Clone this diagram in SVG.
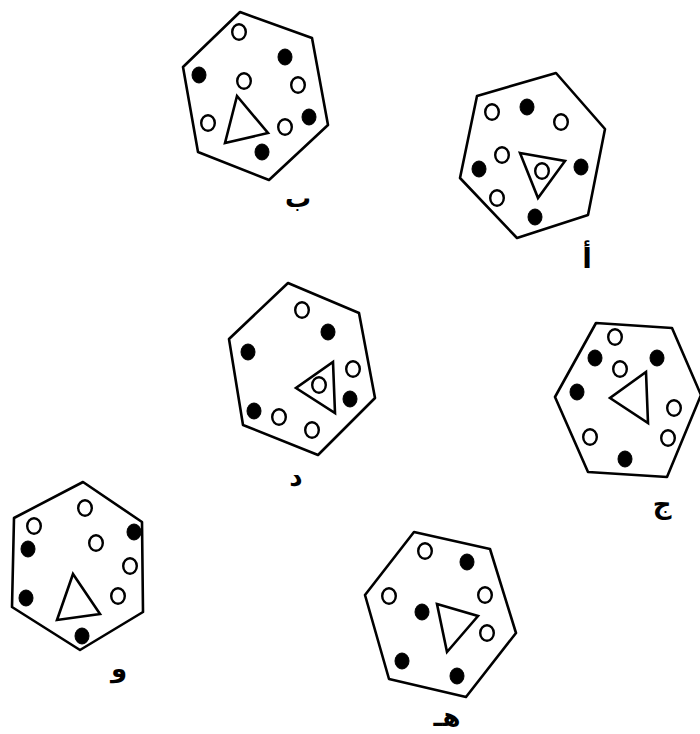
<svg xmlns="http://www.w3.org/2000/svg" width="700" height="734" viewBox="0 0 700 734">
<style>
.hex{fill:none;stroke:#000;stroke-width:2.6;stroke-linejoin:round}
.tri{fill:none;stroke:#000;stroke-width:2.6;stroke-linejoin:miter}
.o{fill:#fff;stroke:#000;stroke-width:2.4}
.f{fill:#000;stroke:#000;stroke-width:1}
.lbl{font-family:"DejaVu Sans",sans-serif;font-weight:bold;font-size:26px;text-anchor:middle;fill:#000}
</style>
<rect width="700" height="734" fill="#fff"/>
<g id="connectors"></g>
<g id="node-b">
<polygon class="hex" points="240,12 312,38 328,125 269,180 198,152 183,67"/>
<polygon class="tri" points="237,96 268,133 225,143"/>
<ellipse class="o" cx="239" cy="32" rx="6.8" ry="7.8"/>
<ellipse class="f" cx="285" cy="57" rx="7" ry="8"/>
<ellipse class="f" cx="199" cy="75" rx="7" ry="8"/>
<ellipse class="o" cx="244" cy="81" rx="6.8" ry="7.8"/>
<ellipse class="o" cx="298" cy="85" rx="6.8" ry="7.8"/>
<ellipse class="o" cx="208" cy="123" rx="6.8" ry="7.8"/>
<ellipse class="f" cx="309" cy="117" rx="7" ry="8"/>
<ellipse class="o" cx="285" cy="127" rx="6.8" ry="7.8"/>
<ellipse class="f" cx="262" cy="152" rx="7" ry="8"/>
<text class="lbl" x="298" y="207">ب</text>
</g>
<g id="node-a">
<polygon class="hex" points="477,96 556,73 605,129 588,215 517,238 460,178"/>
<polygon class="tri" points="520,153 565,161 538,198"/>
<ellipse class="o" cx="492" cy="112" rx="6.8" ry="7.8"/>
<ellipse class="f" cx="527" cy="107" rx="7" ry="8"/>
<ellipse class="o" cx="561" cy="122" rx="6.8" ry="7.8"/>
<ellipse class="o" cx="502" cy="155" rx="6.8" ry="7.8"/>
<ellipse class="f" cx="479" cy="169" rx="7" ry="8"/>
<ellipse class="f" cx="581" cy="167" rx="7" ry="8"/>
<ellipse class="o" cx="497" cy="198" rx="6.8" ry="7.8"/>
<ellipse class="f" cx="535" cy="217" rx="7" ry="8"/>
<ellipse class="o" cx="542" cy="171" rx="6.8" ry="7.8"/>
<text class="lbl" x="587" y="268" style="font-size:28px">أ</text>
</g>
<g id="node-d">
<polygon class="hex" points="288,283 359,313 375,398 318,455 243,425 229,339"/>
<polygon class="tri" points="333,362 335,413 296,388"/>
<ellipse class="o" cx="302" cy="310" rx="6.8" ry="7.8"/>
<ellipse class="f" cx="328" cy="332" rx="7" ry="8"/>
<ellipse class="f" cx="248" cy="352" rx="7" ry="8"/>
<ellipse class="o" cx="353" cy="369" rx="6.8" ry="7.8"/>
<ellipse class="o" cx="319" cy="385" rx="6.8" ry="7.8"/>
<ellipse class="f" cx="350" cy="399" rx="7" ry="8"/>
<ellipse class="f" cx="254" cy="411" rx="7" ry="8"/>
<ellipse class="o" cx="279" cy="417" rx="6.8" ry="7.8"/>
<ellipse class="o" cx="312" cy="430" rx="6.8" ry="7.8"/>
<text class="lbl" x="296" y="486">د</text>
</g>
<g id="node-j">
<polygon class="hex" points="596,323 672,328 701,395 667,477 588,472 555,397"/>
<polygon class="tri" points="646,372 648,423 610,398"/>
<ellipse class="o" cx="615" cy="337" rx="6.8" ry="7.8"/>
<ellipse class="f" cx="595" cy="358" rx="7" ry="8"/>
<ellipse class="o" cx="620" cy="369" rx="6.8" ry="7.8"/>
<ellipse class="f" cx="657" cy="358" rx="7" ry="8"/>
<ellipse class="f" cx="577" cy="392" rx="7" ry="8"/>
<ellipse class="o" cx="674" cy="408" rx="6.8" ry="7.8"/>
<ellipse class="o" cx="590" cy="437" rx="6.8" ry="7.8"/>
<ellipse class="o" cx="668" cy="438" rx="6.8" ry="7.8"/>
<ellipse class="f" cx="625" cy="459" rx="7" ry="8"/>
<text class="lbl" x="662" y="513">ج</text>
</g>
<g id="node-w">
<polygon class="hex" points="83,482 142,522 143,612 80,650 12,607 14,518"/>
<polygon class="tri" points="73,574 100,614 57,620"/>
<ellipse class="o" cx="85" cy="508" rx="6.8" ry="7.8"/>
<ellipse class="o" cx="34" cy="526" rx="6.8" ry="7.8"/>
<ellipse class="f" cx="134" cy="532" rx="7" ry="8"/>
<ellipse class="f" cx="28" cy="549" rx="7" ry="8"/>
<ellipse class="o" cx="96" cy="543" rx="6.8" ry="7.8"/>
<ellipse class="o" cx="130" cy="566" rx="6.8" ry="7.8"/>
<ellipse class="f" cx="26" cy="598" rx="7" ry="8"/>
<ellipse class="o" cx="118" cy="596" rx="6.8" ry="7.8"/>
<ellipse class="f" cx="82" cy="636" rx="7" ry="8"/>
<text class="lbl" x="119" y="677">و</text>
</g>
<g id="node-h">
<polygon class="hex" points="414,532 490,549 516,633 466,697 389,679 365,595"/>
<polygon class="tri" points="437,604 478,616 447,652"/>
<ellipse class="o" cx="425" cy="551" rx="6.8" ry="7.8"/>
<ellipse class="f" cx="467" cy="562" rx="7" ry="8"/>
<ellipse class="o" cx="389" cy="596" rx="6.8" ry="7.8"/>
<ellipse class="o" cx="485" cy="595" rx="6.8" ry="7.8"/>
<ellipse class="f" cx="422" cy="612" rx="7" ry="8"/>
<ellipse class="o" cx="487" cy="633" rx="6.8" ry="7.8"/>
<ellipse class="f" cx="402" cy="661" rx="7" ry="8"/>
<ellipse class="f" cx="457" cy="676" rx="7" ry="8"/>
<text class="lbl" x="447" y="726">هـ</text>
</g>
</svg>
